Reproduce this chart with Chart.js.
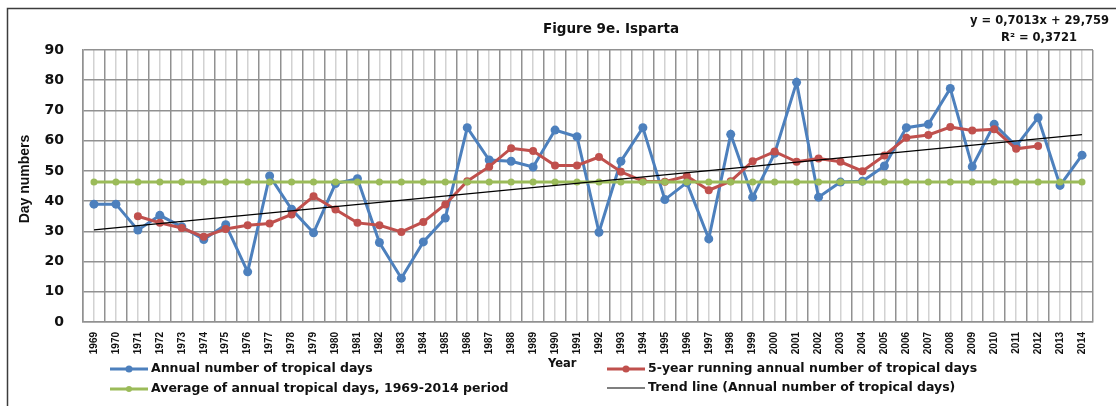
<!DOCTYPE html>
<html>
<head>
<meta charset="utf-8">
<script src="https://cdn.jsdelivr.net/npm/chart.js@4/dist/chart.umd.min.js"></script>
<style>
html,body{margin:0;padding:0;background:#fff;}
#wrap{width:1116px;height:406px;position:relative;}
</style>
</head>
<body>
<div id="wrap"><canvas id="c" width="1116" height="406"></canvas></div>
<script>
// ---- data ----
const years = ['1969','1970','1971','1972','1973','1974','1975','1976','1977','1978',
  '1979','1980','1981','1982','1983','1984','1985','1986','1987','1988',
  '1989','1990','1991','1992','1993','1994','1995','1996','1997','1998',
  '1999','2000','2001','2002','2003','2004','2005','2006','2007','2008',
  '2009','2010','2011','2012','2013','2014'];
const annualDays = [39,39,30.4,35.3,31.5,27.3,32.2,16.6,48.3,37.3,
  29.5,45.8,47.4,26.3,14.5,26.5,34.4,64.3,53.6,53.2,
  51.3,63.5,61.3,29.7,53.2,64.3,40.5,46.1,27.5,62.1,
  41.3,55.8,79.3,41.3,46.3,46.6,51.6,64.3,65.4,77.3,
  51.4,65.4,58.2,67.6,45.2,55.2];
const runningMean5 = [null,null,35.0,32.8,31.1,28.2,30.8,32.0,32.6,35.6,
  41.6,37.2,32.8,32.0,29.8,33.1,38.9,46.6,51.4,57.5,
  56.6,51.8,51.8,54.6,49.7,46.6,46.4,48.3,43.6,46.6,
  53.2,56.4,53.0,54.1,53.0,49.9,55.1,61.0,61.9,64.5,
  63.4,63.8,57.3,58.2,null,null];
const periodAverage = 46.3;
const trendStart = 30.5;   // value at 1969
const trendEnd = 62.0;     // value at 2014
const yTicks = [0,10,20,30,40,50,60,70,80,90];
const titleText = 'Figure 9e. Isparta';
const eqLine1 = 'y = 0,7013x + 29,759';
const eqLine2 = 'R\u00B2 = 0,3721';
const yTitle = 'Day numbers';
const xTitle = 'Year';
const legendLabels = ['Annual number of tropical days','5-year running annual number of tropical days',
  'Average of annual tropical days, 1969-2014 period','Trend line (Annual number of tropical days)'];

const BLUE = '#4d80bd', RED = '#c0504d', GREEN = '#9bbb59', BLACK = '#000000';
const averageSeries = years.map(() => periodAverage);
const trendSeries = years.map((y, i) => i === 0 ? trendStart : (i === years.length - 1 ? trendEnd : null));

const BOLD = '"DejaVu Sans", sans-serif';

const overlay = {
  id: 'overlay',
  beforeDraw(chart) {
    const ctx = chart.ctx;
    ctx.save();
    ctx.fillStyle = '#fff';
    ctx.fillRect(0, 0, chart.width, chart.height);
    ctx.strokeStyle = '#3c3c3c';
    ctx.lineWidth = 1.5;
    ctx.beginPath();
    ctx.moveTo(7.5, 406); ctx.lineTo(7.5, 8.5); ctx.lineTo(1116, 8.5);
    ctx.stroke();
    ctx.restore();
  },
  afterDraw(chart) {
    const ctx = chart.ctx;
    ctx.save();
    ctx.fillStyle = '#111';
    ctx.textBaseline = 'middle';
    ctx.font = 'bold 13.5px ' + BOLD;
    ctx.textAlign = 'center';
    ctx.fillText(titleText, 611, 29);
    ctx.font = 'bold 11.5px ' + BOLD;
    ctx.textAlign = 'right';
    ctx.fillText(eqLine1, 1109, 21);
    ctx.textAlign = 'center';
    ctx.fillText(eqLine2, 1039, 38);
    ctx.save();
    ctx.translate(25, 179);
    ctx.rotate(-Math.PI / 2);
    ctx.font = 'bold 14px "Liberation Sans", sans-serif';
    ctx.textAlign = 'center';
    ctx.fillText(yTitle, 0, 0);
    ctx.restore();
    ctx.font = 'bold 11.5px ' + BOLD;
    ctx.textAlign = 'left';
    ctx.fillText(xTitle, 548, 364);
    const items = [
      {x: 110, y: 369, c: BLUE, r: 3.5, w: 3, t: legendLabels[0]},
      {x: 607, y: 369, c: RED, r: 3.5, w: 3, t: legendLabels[1]},
      {x: 110, y: 389, c: GREEN, r: 3, w: 3, t: legendLabels[2]},
      {x: 607, y: 388, c: BLACK, r: 0, w: 1.2, t: legendLabels[3]}
    ];
    ctx.font = 'bold 12.5px ' + BOLD;
    ctx.textAlign = 'left';
    items.forEach(it => {
      ctx.strokeStyle = it.c;
      ctx.lineWidth = it.w;
      ctx.beginPath();
      ctx.moveTo(it.x, it.y); ctx.lineTo(it.x + 38, it.y);
      ctx.stroke();
      if (it.r > 0) {
        ctx.fillStyle = it.c;
        ctx.beginPath();
        ctx.arc(it.x + 19, it.y, it.r, 0, Math.PI * 2);
        ctx.fill();
      }
      ctx.fillStyle = '#111';
      ctx.fillText(it.t, it.x + 41, it.y);
    });
    ctx.restore();
  }
};

new Chart(document.getElementById('c'), {
  type: 'line',
  data: {
    labels: years,
    datasets: [
      {label: legendLabels[3], data: trendSeries, borderColor: BLACK, borderWidth: 1.2,
       pointRadius: 0, spanGaps: true, order: 0, tension: 0},
      {label: legendLabels[2], data: averageSeries, borderColor: GREEN, backgroundColor: GREEN,
       borderWidth: 3, pointRadius: 3.5, pointBorderWidth: 0, order: 1},
      {label: legendLabels[1], data: runningMean5, borderColor: RED, backgroundColor: RED,
       borderWidth: 3, pointRadius: 4, pointBorderWidth: 0, order: 2},
      {label: legendLabels[0], data: annualDays, borderColor: BLUE, backgroundColor: BLUE,
       borderWidth: 3, pointRadius: 4.5, pointBorderWidth: 0, order: 3}
    ]
  },
  options: {
    responsive: false,
    animation: false,
    devicePixelRatio: 1,
    layout: {padding: {left: 0, right: 23, top: 50, bottom: 0}},
    plugins: {legend: {display: false}, title: {display: false}, tooltip: {enabled: false}},
    scales: {
      x: {
        type: 'category',
        offset: true,
        position: 'bottom',
        grid: {offset: true, color: '#919191', lineWidth: 1.5, drawTicks: false},
        border: {display: true, color: '#919191', width: 1.5},
        ticks: {autoSkip: false, maxRotation: 90, minRotation: 90, padding: 10,
          color: '#111', font: {family: '"Liberation Sans", sans-serif', weight: 'bold', size: 10}},
        afterFit(s) { s.height = 84; }
      },
      x2: {
        type: 'category',
        offset: true,
        position: 'bottom',
        grid: {offset: false, color: '#d2d2d2', lineWidth: 1.5, drawTicks: false},
        border: {display: false},
        ticks: {display: false},
        afterFit(s) { s.height = 0; }
      },
      y: {
        min: 0, max: 90,
        afterBuildTicks(s) { s.ticks = yTicks.map(v => ({value: v})); },
        grid: {color: '#919191', lineWidth: 1.5, drawTicks: false},
        border: {display: true, color: '#919191', width: 1.5},
        ticks: {padding: 19, color: '#111', font: {family: BOLD, weight: 'bold', size: 14}},
        afterFit(s) { s.width = 83; }
      }
    }
  },
  plugins: [overlay]
});
</script>
</body>
</html>
